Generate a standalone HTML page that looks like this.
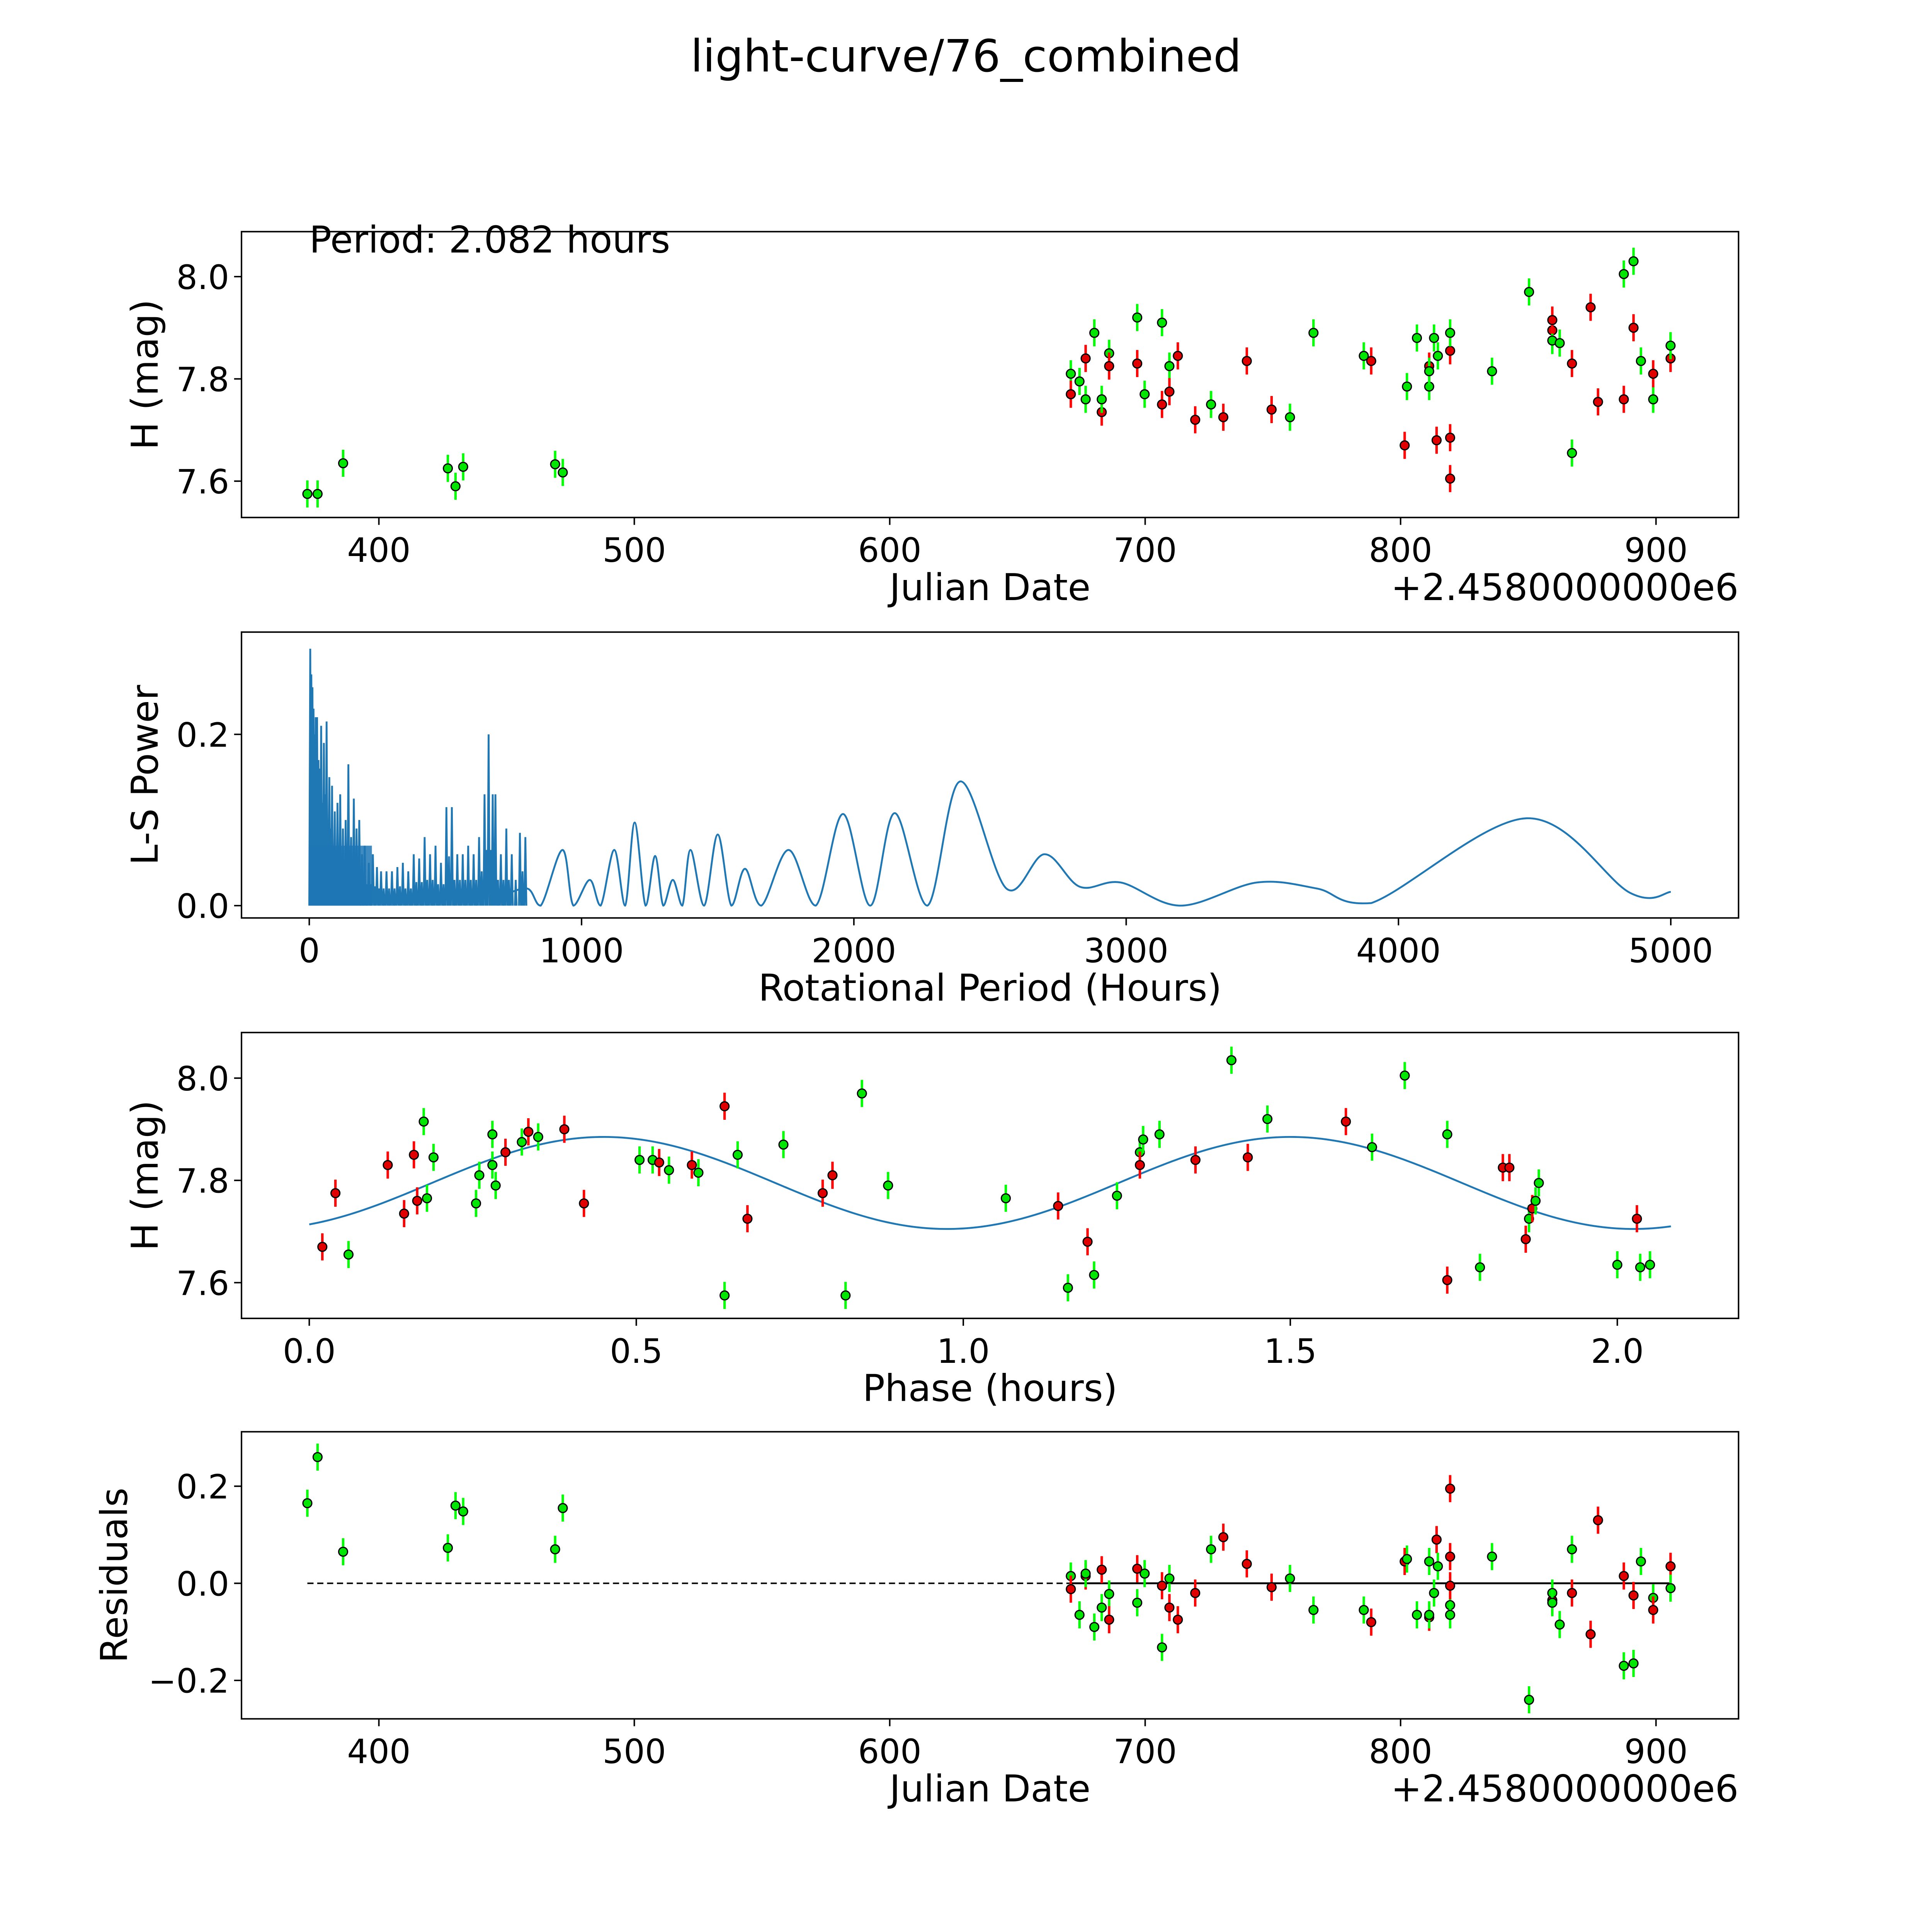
<!DOCTYPE html>
<html><head><meta charset="utf-8"><style>
html,body{margin:0;padding:0;background:#fff;width:100%;height:100%;overflow:hidden}
svg{display:block;width:100vw;height:100vh}
text{font-family:"DejaVu Sans","Liberation Sans",sans-serif;fill:#000}
</style></head><body>
<svg id="fig" viewBox="0 0 1568 1568" preserveAspectRatio="none" xmlns="http://www.w3.org/2000/svg">
<rect width="1568" height="1568" fill="#fff"/>
<text x="784" y="58" font-size="36" text-anchor="middle">light-curve/76_combined</text>
<g id="p1"></g>
<g id="p2"></g>
<g id="p3"></g>
<g id="p4"></g>
</svg>
<script>
// ---- data ----
const lcDates=[372,376,386,427,430,433,469,472,670.9,670.9,674.3,676.7,676.7,680.1,683,683,685.9,685.9,696.9,696.9,699.8,706.6,706.6,709.5,709.5,712.8,719.6,725.8,730.6,739.8,749.5,756.7,765.9,785.6,788.5,801.6,802.5,806.4,811.2,811.2,811.2,813.1,814.1,814.6,819.4,819.4,819.4,819.4,835.8,850.3,859.4,859.4,859.4,862.3,867.1,867.1,874.4,877.3,887.4,887.4,891.2,891.2,894.1,898.9,898.9,905.7,905.7];
const lcMags=[7.575,7.575,7.635,7.625,7.59,7.628,7.633,7.617,7.81,7.77,7.795,7.84,7.76,7.89,7.735,7.76,7.85,7.825,7.92,7.83,7.77,7.91,7.75,7.825,7.775,7.845,7.72,7.75,7.725,7.835,7.74,7.725,7.89,7.845,7.835,7.67,7.785,7.88,7.785,7.825,7.815,7.88,7.68,7.845,7.685,7.855,7.89,7.605,7.815,7.97,7.895,7.875,7.915,7.87,7.83,7.655,7.94,7.755,7.76,8.005,7.9,8.03,7.835,7.76,7.81,7.84,7.865];
const lcColors="gggggggg"+"gr"+"g"+"rg"+"g"+"rg"+"gr"+"gr"+"g"+"gr"+"gr"+"r"+"r"+"g"+"r"+"r"+"r"+"g"+"g"+"g"+"r"+"r"+"g"+"g"+"grg"+"g"+"r"+"g"+"rrgr"+"g"+"g"+"rgr"+"g"+"rg"+"r"+"r"+"rg"+"rg"+"g"+"gr"+"rg";

const lsKnotP=[700,800,850,930,970,1030,1070,1120,1160,1195,1235,1270,1300,1335,1370,1400,1450,1500,1550,1600,1660,1760,1860,1960,2060,2150,2270,2390,2560,2700,2830,2980,3200,3480,3700,3900,4470,4850,5000];
const lsKnotPow=[0.01,0.02,0.0,0.065,0.0,0.03,0.0,0.065,0.0,0.097,0.0,0.058,0.0,0.03,0.0,0.065,0.0,0.083,0.0,0.043,0.0,0.065,0.0,0.107,0.0,0.108,0.0,0.145,0.02,0.06,0.022,0.027,0.0,0.027,0.02,0.003,0.102,0.015,0.016];
const lsSpikeP=[0,4,8,12,16,20,25,30,35,40,45,50,55,60,65,70,75,80,90,100,110,120,130,140,150,160,170,180,190,200,215,230,245,260,280,300,320,340,360,380,400,420,440,460,480,500,520,540,560,580,600,620,640,655,670,680,700,720,740,770,790];
const lsSpikePow=[0.3,0.27,0.255,0.23,0.2,0.22,0.22,0.17,0.16,0.21,0.12,0.19,0.13,0.215,0.1,0.15,0.09,0.14,0.11,0.12,0.13,0.09,0.1,0.165,0.08,0.125,0.09,0.1,0.06,0.07,0.05,0.06,0.045,0.04,0.04,0.04,0.045,0.05,0.04,0.06,0.055,0.08,0.06,0.07,0.05,0.115,0.115,0.06,0.06,0.07,0.06,0.08,0.13,0.2,0.13,0.13,0.06,0.09,0.06,0.085,0.08];

const phVals=[0.02,0.04,0.06,0.12,0.145,0.16,0.165,0.175,0.18,0.19,0.255,0.26,0.28,0.28,0.285,0.30,0.325,0.335,0.35,0.39,0.42,0.505,0.525,0.535,0.55,0.585,0.595,0.635,0.635,0.655,0.67,0.725,0.785,0.80,0.82,0.845,0.885,1.065,1.145,1.16,1.19,1.20,1.235,1.27,1.27,1.275,1.30,1.355,1.41,1.435,1.465,1.585,1.625,1.675,1.74,1.74,1.79,1.825,1.835,1.86,1.865,1.87,1.875,1.88,2.0,2.03,2.035,2.05];
const phMags=[7.67,7.775,7.655,7.83,7.735,7.85,7.76,7.915,7.765,7.845,7.755,7.81,7.89,7.83,7.79,7.855,7.875,7.895,7.885,7.9,7.755,7.84,7.84,7.835,7.82,7.83,7.815,7.945,7.575,7.85,7.725,7.87,7.775,7.81,7.575,7.97,7.79,7.765,7.75,7.59,7.68,7.615,7.77,7.855,7.83,7.88,7.89,7.84,8.035,7.845,7.92,7.915,7.865,8.005,7.89,7.605,7.63,7.825,7.825,7.685,7.725,7.745,7.76,7.795,7.635,7.725,7.63,7.635];
const phColors="rrgrrrrggg"+"gggggrgrgr"+"rggrgrgrgg"+"rgrrggggrg"+"rgggrggrgr"+"grgggrgrrr"+"grgggrgg";
const modelMean=7.795, modelAmp=0.09, modelPeriod=1.05, modelPeak=0.45, foldPeriod=2.082;

const resDates=[372,376,386,427,430,433,469,472,670.9,670.9,674.3,676.7,676.7,680.1,683,683,685.9,685.9,696.9,696.9,699.8,706.6,706.6,709.5,709.5,712.8,719.6,725.8,730.6,739.8,749.5,756.7,765.9,785.6,788.5,801.6,802.5,806.4,811.2,811.2,811.2,813.1,814.1,814.6,819.4,819.4,819.4,819.4,819.4,835.8,850.3,859.4,859.4,859.4,862.3,867.1,867.1,874.4,877.3,887.4,887.4,891.2,891.2,894.1,898.9,898.9,905.7,905.7];
const resVals=[0.165,0.26,0.065,0.073,0.16,0.148,0.07,0.155,0.015,-0.012,-0.065,0.015,0.02,-0.09,0.028,-0.05,-0.022,-0.075,0.03,-0.04,0.02,-0.132,-0.005,-0.05,0.01,-0.075,-0.02,0.07,0.095,0.04,-0.008,0.01,-0.055,-0.055,-0.08,0.045,0.05,-0.065,0.045,-0.07,-0.065,-0.02,0.09,0.035,0.195,0.055,-0.045,-0.005,-0.065,0.055,-0.24,-0.035,-0.02,-0.04,-0.085,0.07,-0.02,-0.105,0.13,0.015,-0.17,-0.025,-0.165,0.045,-0.03,-0.055,0.035,-0.01];
const resColors="gggggggg"+"gr"+"g"+"rg"+"g"+"rg"+"gr"+"rg"+"g"+"gr"+"rg"+"r"+"r"+"g"+"r"+"r"+"r"+"g"+"g"+"g"+"r"+"r"+"g"+"g"+"grg"+"g"+"r"+"g"+"rrgrg"+"g"+"g"+"rgg"+"g"+"gr"+"r"+"r"+"rg"+"rg"+"g"+"gr"+"rg";

// ---- helpers ----
const NS="http://www.w3.org/2000/svg";
function mk(parent,tag,attrs,txt){const e=document.createElementNS(NS,tag);for(const k in attrs)e.setAttribute(k,attrs[k]);if(txt!==undefined)e.textContent=txt;parent.appendChild(e);return e;}
const L=196,R=1411;
function frame(g,top,bot,xs,xt,ys,yt,xlabel,ylabel,offset){
  const fr=mk(g,'rect',{x:L,y:top,width:R-L,height:bot-top,fill:'none',stroke:'#000','stroke-width':1.2});
  
  
  xt.forEach(t=>{const x=xs(t.v);mk(g,'line',{x1:x,x2:x,y1:bot,y2:bot+6,stroke:'#000','stroke-width':1.2});
    const tx=mk(g,'text',{x:x,y:bot+36,'font-size':27,'text-anchor':'middle'},t.l);
    
    });
  yt.forEach(t=>{const y=ys(t.v);mk(g,'line',{x1:L-6,x2:L,y1:y,y2:y,stroke:'#000','stroke-width':1.2});
    const tx=mk(g,'text',{x:L-10,y:y+10,'font-size':27,'text-anchor':'end'},t.l);
    
    });
  const xl=mk(g,'text',{x:(L+R)/2,y:bot+67,'font-size':30,'text-anchor':'middle'},xlabel);
  
  
  const yl=mk(g,'text',{x:0,y:0,'font-size':30,'text-anchor':'middle',transform:`translate(${ylabel.x},${(top+bot)/2}) rotate(-90)`},ylabel.t);
  
  
  if(offset){const o=mk(g,'text',{x:R,y:bot+67,'font-size':30,'text-anchor':'end'},offset);
    
    }
}
function point(g,x,y,c,err){
  const col=c==='r'?'#ff0000':'#00ff00', fc=c==='r'?'#e00000':'#00e600';
  mk(g,'line',{x1:x,x2:x,y1:y-err,y2:y+err,stroke:col,'stroke-width':2});
  const p=mk(g,'circle',{cx:x,cy:y,r:3.6,fill:fc,stroke:'#000','stroke-width':1});
  
  
}
const jdX=v=>307.5+(v-400)*2.073;
const jdTicks=[400,500,600,700,800,900].map(v=>({v,l:String(v)}));

// ---- panel 1 ----
{const g=document.getElementById('p1');const top=188,bot=420;
 const ys=v=>390.5-(v-7.6)*415;
 frame(g,top,bot,jdX,jdTicks,ys,[7.6,7.8,8.0].map(v=>({v,l:v.toFixed(1)})),'Julian Date',{x:128,t:'H (mag)'},'+2.4580000000e6');
 const pt=mk(g,'text',{x:251,y:205,'font-size':30},'Period: 2.082 hours');
 
 
 lcDates.forEach((d,i)=>point(g,jdX(d),ys(lcMags[i]),lcColors[i],11));}

// ---- panel 2 ----
{const g=document.getElementById('p2');const top=513,bot=745;
 const xs=v=>251+v*0.221, ys=v=>735-v*695;
 frame(g,top,bot,xs,[0,1000,2000,3000,4000,5000].map(v=>({v,l:String(v)})),ys,[{v:0,l:'0.0'},{v:0.2,l:'0.2'}],'Rotational Period (Hours)',{x:128,t:'L-S Power'});
 let d='';
 for(let i=0;i<lsSpikeP.length;i++){const x=xs(lsSpikeP[i]);d+=`M${x},${ys(0)}L${x+0.8},${ys(lsSpikePow[i])}L${x+1.6},${ys(0)}`;
   if(i<lsSpikeP.length-1){const mid=(lsSpikeP[i]+lsSpikeP[i+1])/2, mh=Math.min(lsSpikePow[i],lsSpikePow[i+1])*0.5;
     d+=`M${xs(mid)},${ys(0)}L${xs(mid)+0.7},${ys(mh)}L${xs(mid)+1.4},${ys(0)}`;}}
 const sp=mk(g,'path',{d:d,fill:'none',stroke:'#1f77b4','stroke-width':1.5});
 
 
 const dense=mk(g,'rect',{x:xs(0),y:ys(0.07),width:xs(230)-xs(0),height:ys(0)-ys(0.07),fill:'#1f77b4',opacity:0.85});
 
 
 const P=lsKnotP.map((p,i)=>[xs(p),ys(lsKnotPow[i])]);
 let s=`M${P[0][0]},${P[0][1]}`;
 for(let i=0;i<P.length-1;i++){const p0=P[Math.max(0,i-1)],p1=P[i],p2=P[i+1],p3=P[Math.min(P.length-1,i+2)];
   const c1=[p1[0]+(p2[0]-p0[0])/6,p1[1]+(p2[1]-p0[1])/6],c2=[p2[0]-(p3[0]-p1[0])/6,p2[1]-(p3[1]-p1[1])/6];
   c1[1]=Math.min(c1[1],ys(0));c2[1]=Math.min(c2[1],ys(0));
   s+=`C${c1[0]},${c1[1]} ${c2[0]},${c2[1]} ${p2[0]},${p2[1]}`;}
 const ln=mk(g,'path',{d:s,fill:'none',stroke:'#1f77b4','stroke-width':1.5});
 
 }

// ---- panel 3 ----
{const g=document.getElementById('p3');const top=838,bot=1070;
 const xs=v=>251+v*530.8, ys=v=>1041-(v-7.6)*415;
 frame(g,top,bot,xs,[0,0.5,1,1.5,2].map(v=>({v,l:v.toFixed(1)})),ys,[7.6,7.8,8.0].map(v=>({v,l:v.toFixed(1)})),'Phase (hours)',{x:128,t:'H (mag)'});
 let d='';for(let i=0;i<=300;i++){const p=foldPeriod*i/300;const v=modelMean+modelAmp*Math.cos(2*Math.PI*(p-modelPeak)/modelPeriod);d+=(i?'L':'M')+xs(p)+','+ys(v);}
 const m=mk(g,'path',{d:d,fill:'none',stroke:'#1f77b4','stroke-width':1.5});
 
 
 phVals.forEach((p,i)=>point(g,xs(p),ys(phMags[i]),phColors[i],11));}

// ---- panel 4 ----
{const g=document.getElementById('p4');const top=1162,bot=1395;
 const ys=v=>1285-v*394;
 frame(g,top,bot,jdX,jdTicks,ys,[{v:-0.2,l:'\u22120.2'},{v:0,l:'0.0'},{v:0.2,l:'0.2'}],'Julian Date',{x:103,t:'Residuals'},'+2.4580000000e6');
 const zl=mk(g,'line',{x1:jdX(372),x2:jdX(905.7),y1:ys(0),y2:ys(0),stroke:'#000','stroke-width':1.2,'stroke-dasharray':'5,3'});
 
 
 mk(g,'line',{x1:jdX(670.9),x2:jdX(905.7),y1:ys(0),y2:ys(0),stroke:'#000','stroke-width':1.5});
 resDates.forEach((d,i)=>point(g,jdX(d),ys(resVals[i]),resColors[i],11));}
</script>
</body></html>
